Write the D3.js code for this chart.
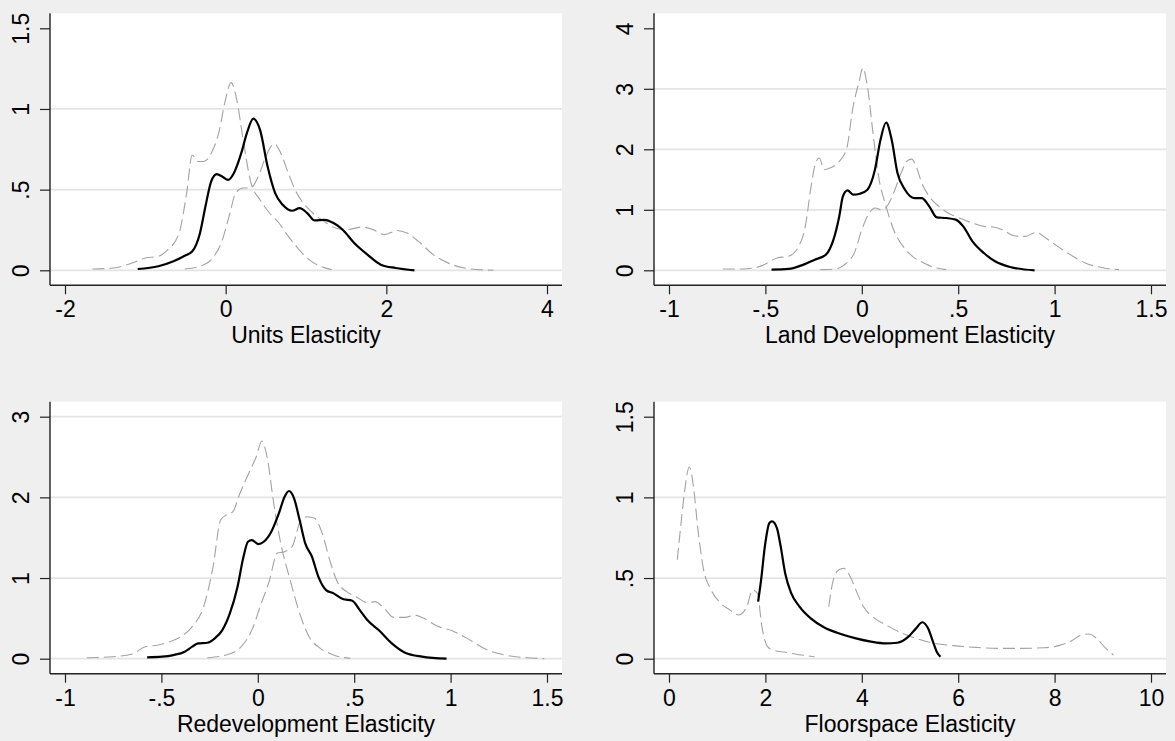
<!DOCTYPE html>
<html>
<head>
<meta charset="utf-8">
<script src="https://cdn.jsdelivr.net/npm/d3@7"></script>
<style>
  body { margin: 0; background: #efefef; }
  text { font-family: "Liberation Sans", Arial, sans-serif; fill: #000; }
</style>
</head>
<body>
<div class="chart"></div>
<script>
const width = 1175
const height = 741

// tick values per panel
const unitsXTicks = [-2, 0, 2, 4]
const unitsYTicks = [0, .5, 1, 1.5]
const unitsGrid = [0, .5, 1]
const landXTicks = [-1, -.5, 0, .5, 1, 1.5]
const landYTicks = [0, 1, 2, 3, 4]
const landGrid = [0, 1, 2, 3]
const redevXTicks = [-1, -.5, 0, .5, 1, 1.5]
const redevYTicks = [0, 1, 2, 3]
const redevGrid = [0, 1, 2, 3]
const floorXTicks = [0, 2, 4, 6, 8, 10]
const floorYTicks = [0, .5, 1, 1.5]
const floorGrid = [0, .5, 1]

// density curves, [x, density]
const unitsMain = [[-1.095,.008],[-.837,.025],[-.65,.056],[-.509,.09],[-.415,.118],[-.32,.23],[-.25,.40],[-.181,.55],[-.111,.596],[-.04,.58],[.03,.56],[.1,.60],[.194,.726],[.264,.85],[.344,.94],[.428,.87],[.522,.643],[.616,.478],[.71,.406],[.827,.369],[.92,.385],[1.015,.355],[1.108,.309],[1.225,.313],[1.343,.293],[1.46,.25],[1.6,.169],[1.765,.097],[1.93,.035],[2.116,.014],[2.35,0]]
const unitsLow = [[-1.658,.008],[-1.4,.014],[-1.166,.045],[-1.0,.076],[-.837,.087],[-.72,.128],[-.58,.23],[-.486,.478],[-.416,.715],[-.345,.674],[-.275,.674],[-.18,.726],[-.087,.85],[-.003,1.056],[.067,1.163],[.138,1.056],[.218,.808],[.311,.55],[.428,.437],[.546,.355],[.663,.293],[.78,.21],[.897,.138],[1.038,.066],[1.18,.025],[1.32,.004]]
const unitsHigh = [[-.509,.008],[-.32,.025],[-.18,.066],[-.04,.19],[.053,.355],[.124,.478],[.218,.51],[.311,.51],[.405,.58],[.499,.705],[.607,.784],[.686,.726],[.78,.602],[.874,.489],[.968,.416],[1.085,.355],[1.225,.303],[1.366,.262],[1.507,.252],[1.694,.268],[1.835,.252],[1.976,.221],[2.14,.247],[2.257,.231],[2.4,.179],[2.585,.097],[2.82,.035],[3.054,.008],[3.335,0]]

const landMain = [[-.468,.011],[-.38,.022],[-.302,.094],[-.244,.176],[-.186,.259],[-.147,.506],[-.117,.89],[-.098,1.222],[-.074,1.32],[-.045,1.25],[-.01,1.266],[.029,1.332],[.068,1.662],[.097,2.157],[.126,2.443],[.155,2.157],[.185,1.607],[.224,1.332],[.272,1.194],[.311,1.194],[.35,1.057],[.389,.875],[.438,.864],[.487,.837],[.526,.726],[.574,.479],[.633,.286],[.691,.149],[.769,.055],[.896,0]]
const landLow = [[-.721,.022],[-.614,.022],[-.517,.077],[-.439,.204],[-.38,.231],[-.332,.369],[-.293,.726],[-.263,1.387],[-.24,1.772],[-.221,1.855],[-.195,1.662],[-.166,1.69],[-.117,1.8],[-.078,2.02],[-.045,2.708],[-.014,3.12],[.005,3.34],[.029,3.04],[.058,2.267],[.087,1.552],[.126,1.057],[.165,.671],[.214,.396],[.263,.231],[.321,.121],[.389,.039],[.438,.011]]
const landHigh = [[-.215,.011],[-.137,.022],[-.078,.121],[-.039,.286],[0,.671],[.039,.947],[.068,1.03],[.107,1.0],[.136,1.084],[.165,1.277],[.204,1.607],[.233,1.8],[.259,1.838],[.282,1.717],[.311,1.442],[.35,1.222],[.399,1.057],[.448,.947],[.506,.864],[.574,.781],[.633,.726],[.682,.715],[.73,.671],[.789,.572],[.847,.561],[.906,.627],[.954,.534],[1.003,.424],[1.081,.259],[1.159,.121],[1.256,.039],[1.334,.011]]

const redevMain = [[-.574,.017],[-.496,.025],[-.438,.045],[-.379,.087],[-.34,.149],[-.31,.19],[-.262,.198],[-.223,.252],[-.184,.355],[-.145,.562],[-.105,.893],[-.076,1.244],[-.051,1.45],[-.031,1.471],[.002,1.421],[.031,1.45],[.07,1.574],[.109,1.8],[.139,2.008],[.162,2.079],[.188,1.988],[.217,1.719],[.246,1.43],[.281,1.264],[.314,1.017],[.354,.851],[.393,.81],[.441,.74],[.49,.719],[.529,.603],[.568,.479],[.627,.355],[.695,.19],[.764,.074],[.852,.025],[.979,0]]
const redevLow = [[-.887,.012],[-.75,.025],[-.652,.058],[-.584,.149],[-.516,.169],[-.457,.211],[-.398,.273],[-.34,.397],[-.281,.645],[-.232,1.14],[-.193,1.719],[-.164,1.781],[-.129,1.822],[-.096,2.029],[-.047,2.298],[-.008,2.504],[.021,2.698],[.051,2.463],[.08,1.967],[.119,1.43],[.168,.975],[.217,.562],[.266,.273],[.324,.128],[.393,.045],[.48,.004]]
const redevHigh = [[-.262,.012],[-.164,.045],[-.086,.149],[-.027,.376],[.012,.645],[.061,.975],[.1,1.306],[.139,1.326],[.178,1.388],[.217,1.678],[.256,1.76],[.295,1.74],[.334,1.554],[.373,1.223],[.412,.955],[.461,.831],[.51,.769],[.568,.694],[.607,.707],[.656,.624],[.705,.512],[.764,.512],[.813,.541],[.861,.5],[.93,.405],[1.008,.347],[1.086,.252],[1.184,.116],[1.281,.045],[1.398,.012],[1.486,0]]

const floorMain = [[1.849,.354],[1.911,.489],[1.989,.696],[2.083,.841],[2.137,.851],[2.239,.81],[2.317,.696],[2.41,.53],[2.535,.406],[2.707,.323],[2.941,.25],[3.214,.195],[3.565,.153],[3.877,.126],[4.189,.106],[4.501,.095],[4.735,.099],[4.969,.137],[5.125,.188],[5.257,.226],[5.374,.188],[5.476,.106],[5.554,.043],[5.632,.012]]
const floorLow = [[.172,.613],[.25,.841],[.328,1.048],[.421,1.188],[.507,1.068],[.601,.799],[.718,.551],[.874,.426],[1.069,.344],[1.264,.302],[1.443,.271],[1.615,.323],[1.732,.426],[1.833,.406],[1.927,.199],[2.044,.075],[2.161,.054],[2.473,.037],[2.785,.021],[3.019,.012]]
const floorHigh = [[3.315,.323],[3.409,.489],[3.526,.551],[3.627,.561],[3.76,.509],[3.877,.426],[4.033,.323],[4.267,.25],[4.501,.209],[4.813,.161],[5.125,.126],[5.515,.095],[5.905,.081],[6.373,.07],[6.841,.064],[7.309,.064],[7.777,.068],[8.089,.081],[8.323,.106],[8.557,.147],[8.713,.153],[8.869,.126],[9.064,.064],[9.22,.023]]

const panels = [
  {left: 50, top: 13.3, title: 'Units Elasticity', xTicks: unitsXTicks, yTicks: unitsYTicks, grid: unitsGrid, main: unitsMain, low: unitsLow, high: unitsHigh},
  {left: 654, top: 13.3, title: 'Land Development Elasticity', xTicks: landXTicks, yTicks: landYTicks, grid: landGrid, main: landMain, low: landLow, high: landHigh},
  {left: 50, top: 401.7, title: 'Redevelopment Elasticity', xTicks: redevXTicks, yTicks: redevYTicks, grid: redevGrid, main: redevMain, low: redevLow, high: redevHigh},
  {left: 654, top: 401.7, title: 'Floorspace Elasticity', xTicks: floorXTicks, yTicks: floorYTicks, grid: floorGrid, main: floorMain, low: floorLow, high: floorHigh}
]

const pw = 512
const ph = 272
const pad = 15
const fontSize = '23px'

// stata style labels: .5 instead of 0.5
const fmt = d => String(d).replace(/^(-?)0\./, '$1.')

const svg = d3.select('.chart')
  .append('svg')
  .attr('width', width)
  .attr('height', height)

svg.append('rect')
  .attr('width', width)
  .attr('height', height)
  .attr('fill', '#efefef')

function drawPanel(p) {

  const g = svg.append('g')
    .attr('transform', `translate(${p.left}, ${p.top})`)

  const x = d3.scaleLinear()
    .domain(d3.extent(p.xTicks))
    .range([pad, pw - pad])

  const y = d3.scaleLinear()
    .domain(d3.extent(p.yTicks))
    .range([ph - pad, pad])

  g.append('rect')
    .attr('width', pw)
    .attr('height', ph)
    .attr('fill', '#fff')

  g.selectAll('line.grid')
    .data(p.grid)
    .enter().append('line')
      .attr('class', 'grid')
      .attr('x1', 0)
      .attr('x2', pw)
      .attr('y1', d => y(d))
      .attr('y2', d => y(d))
      .attr('stroke', '#e4e4e4')
      .attr('stroke-width', 1.7)

  const line = d3.line()
    .x(d => x(d[0]))
    .y(d => y(d[1]))
    .curve(d3.curveMonotoneX)

  ;[p.low, p.high].forEach(band => {
    g.append('path')
      .attr('d', line(band))
      .attr('fill', 'none')
      .attr('stroke', '#a3a3a3')
      .attr('stroke-width', 1.1)
      .attr('stroke-dasharray', '12,5')
  })

  g.append('path')
    .attr('d', line(p.main))
    .attr('fill', 'none')
    .attr('stroke', '#000')
    .attr('stroke-width', 2.2)
    .attr('stroke-linejoin', 'round')

  // x axis
  const xAxis = g.append('g')
    .attr('transform', `translate(0, ${ph})`)
    .call(d3.axisBottom(x).tickValues(p.xTicks).tickFormat(fmt).tickSize(9).tickSizeOuter(0))

  xAxis.select('.domain').remove()
  xAxis.selectAll('line').attr('stroke', '#222').attr('stroke-width', 1.2)
  xAxis.selectAll('text')
    .attr('y', 32)
    .attr('dy', 0)
    .style('font-size', fontSize)
    .style('font-family', '"Liberation Sans", Arial, sans-serif')

  g.append('line')
    .attr('x1', 0).attr('x2', pw)
    .attr('y1', ph).attr('y2', ph)
    .attr('stroke', '#222')
    .attr('stroke-width', 1.4)

  // y axis
  const yAxis = g.append('g')
    .call(d3.axisLeft(y).tickValues(p.yTicks).tickFormat(fmt).tickSize(10).tickSizeOuter(0))

  yAxis.select('.domain').remove()
  yAxis.selectAll('line').attr('stroke', '#222').attr('stroke-width', 1.2)
  yAxis.selectAll('text')
    .attr('transform', 'rotate(-90)')
    .attr('x', 0)
    .attr('y', -21)
    .attr('dy', 0)
    .attr('text-anchor', 'middle')
    .style('font-size', fontSize)
    .style('font-family', '"Liberation Sans", Arial, sans-serif')

  g.append('line')
    .attr('x1', 0).attr('x2', 0)
    .attr('y1', 0).attr('y2', ph)
    .attr('stroke', '#222')
    .attr('stroke-width', 1.4)

  g.append('text')
    .attr('x', pw / 2)
    .attr('y', ph + 58)
    .attr('text-anchor', 'middle')
    .style('font-size', fontSize)
    .text(p.title)
}

panels.forEach(drawPanel)
</script>
</body>
</html>
